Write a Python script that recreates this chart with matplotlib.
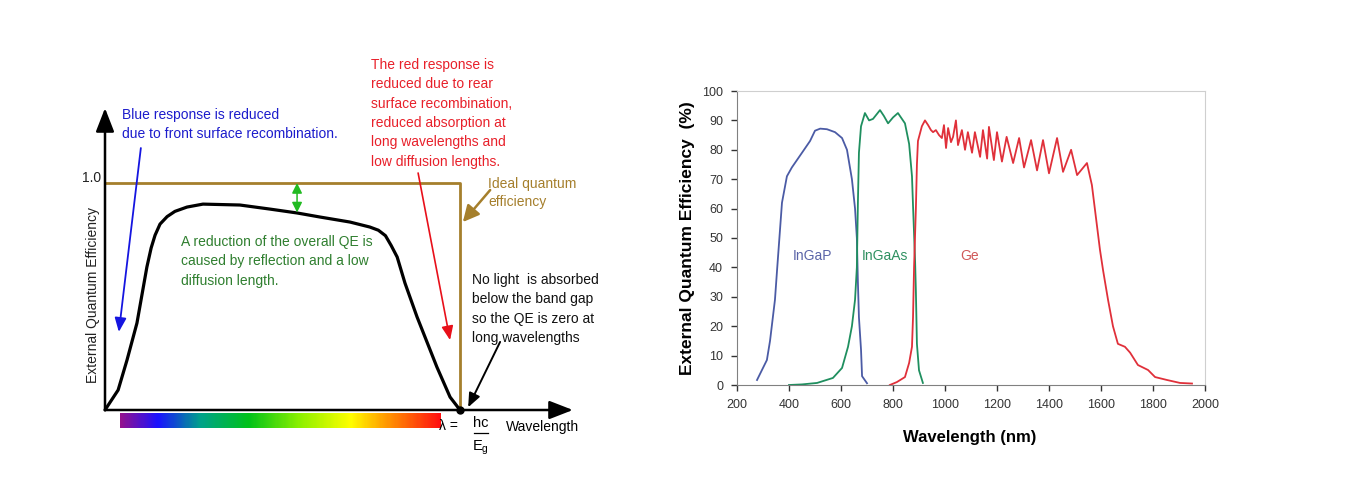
import numpy as np
import matplotlib
matplotlib.use('Agg')
import matplotlib.pyplot as plt
from matplotlib.colors import LinearSegmentedColormap

plt.rcParams['font.family'] = ['Liberation Sans', 'DejaVu Sans']

# ---- left panel: idealised QE curve (wavelength scaled so that hc/Eg = 1)
qe_x = [0, 0.037, 0.062, 0.090, 0.118, 0.130, 0.141, 0.155, 0.175, 0.197,
        0.231, 0.276, 0.380, 0.465, 0.541, 0.606, 0.690, 0.746, 0.770, 0.790,
        0.806, 0.823, 0.845, 0.879, 0.935, 0.972, 1.0]
qe_y = [0, 0.088, 0.220, 0.383, 0.630, 0.714, 0.770, 0.819, 0.852, 0.875,
        0.894, 0.907, 0.903, 0.885, 0.868, 0.850, 0.828, 0.806, 0.792, 0.768,
        0.725, 0.674, 0.559, 0.410, 0.189, 0.057, 0]
ideal_x = [0, 1.0, 1.0]
ideal_y = [1.0, 1.0, 0]
spectrum_colors = ['#92118f', '#1a12ff', '#00a38a', '#00c21a', '#8cf000',
                   '#ffff00', '#ffa300', '#ff1010']
spectrum_stops = [0, 0.116, 0.25, 0.40, 0.56, 0.72, 0.82, 1.0]

# ---- right panel: measured EQE of a triple junction cell
ingap_wl = [277, 315, 327, 346, 354, 373, 392, 411, 450, 481, 500, 520, 546, 577,
            604, 623, 642, 654, 661, 665, 669, 677, 681, 700]
ingap_qe = [1.7, 8.5, 15, 29, 39, 62, 71, 74, 79, 83, 86.5, 87.2, 87, 86,
            84, 80, 70, 60, 50, 35, 23, 12, 3, 0.6]

ingaas_wl = [400, 450, 508, 569, 604, 627, 642, 654, 661, 665, 669, 677, 692,
             708, 723, 750, 765, 781, 800, 819, 846, 862, 873, 877, 885, 888,
             892, 900, 915]
ingaas_qe = [0, 0.2, 0.7, 2.4, 5.8, 13, 20, 29, 40, 62, 79, 88, 92.5,
             90, 90.5, 93.5, 91.5, 89, 91, 92.5, 89, 82, 71, 61, 42, 32,
             14, 5, 0.7]

ge_wl = [788, 815, 846, 862, 873, 877, 881, 888, 892, 896, 911, 923, 935,
         946, 954, 965, 977, 988, 996, 1004, 1012, 1023, 1031, 1042, 1050,
         1065, 1077, 1088, 1104, 1115, 1135, 1146, 1162, 1169, 1188, 1200,
         1219, 1237, 1262, 1285, 1304, 1331, 1354, 1377, 1400, 1431, 1454,
         1485, 1508, 1546, 1565, 1596, 1608, 1627, 1646, 1665, 1692, 1712,
         1742, 1781, 1808, 1854, 1904, 1950]
ge_qe = [0, 1, 2.7, 7.5, 13, 23, 40, 60, 75, 83, 88, 90, 88.4,
         86.7, 86, 86.7, 85, 84, 88.4, 80.6, 87.4, 82.6, 84.4, 90, 81.6,
         86.7, 80, 86, 79, 86, 77.6, 86.7, 77, 87.8, 76.5, 86,
         76, 84.4, 75.5, 84, 74, 83.3, 73, 83.3, 72, 84, 72.5,
         80, 71.4, 75.5, 68, 46, 39, 29, 20, 14, 13, 11,
         6.8, 5.1, 2.7, 1.7, 0.7, 0.5]

x_ticks = list(range(200, 2001, 200))
y_ticks = list(range(0, 101, 10))

fig = plt.figure(figsize=(13.46, 4.93), dpi=100)

# ================= left schematic =================
axL = fig.add_axes([0, 0, 0.5, 1])
axL.axis('off')

def arrow(ax, start, end, color, lw=1.3, head='-|>,head_length=0.6,head_width=0.25', ms=14):
    ax.annotate('', xy=end, xytext=start,
                arrowprops=dict(arrowstyle=head, color=color, lw=lw,
                                shrinkA=0, shrinkB=0, mutation_scale=ms))

brown = '#a57f2c'
fs = 10
ls = 1.48
# spectrum bar under the axis
spec_cmap = LinearSegmentedColormap.from_list('spec', list(zip(spectrum_stops, spectrum_colors)))
axL.imshow(np.linspace(0, 1, 300)[None, :], extent=[0.042, 0.944, -0.079, -0.013],
           aspect='auto', cmap=spec_cmap, zorder=1)

axL.plot(ideal_x, ideal_y, color=brown, lw=2.0, zorder=2)
axL.plot(qe_x, qe_y, color='black', lw=2.3, zorder=3,
         solid_capstyle='round', solid_joinstyle='round')
axL.plot([1.0], [0], 'o', color='black', ms=5, zorder=5)

# axes arrows
arrow(axL, (0, 0), (0, 1.33), 'black', lw=1.8, head='-|>,head_length=0.9,head_width=0.35', ms=16)
arrow(axL, (0, 0), (1.318, 0), 'black', lw=1.8, head='-|>,head_length=0.9,head_width=0.35', ms=16)

axL.text(-0.011, 1.022, '1.0', ha='right', va='center', fontsize=fs, color='#222222')
axL.text(-0.034, 0.507, 'External Quantum Efficiency', rotation=90, ha='center',
         va='center', fontsize=fs, color='#222222')

# gap between ideal and real QE
arrow(axL, (0.541, 0.87), (0.541, 1.0), '#22bb22', lw=1.1,
      head='<|-|>,head_length=0.5,head_width=0.25', ms=12)

# blue response
axL.text(0.048, 1.330, 'Blue response is reduced\ndue to front surface recombination.',
         ha='left', va='top', fontsize=fs, color='#1c1ccc', linespacing=ls)
arrow(axL, (0.101, 1.154), (0.039, 0.344), '#1515e0', lw=1.3)

# red response
axL.text(0.749, 1.550, 'The red response is\nreduced due to rear\nsurface recombination,\n'
         'reduced absorption at\nlong wavelengths and\nlow diffusion lengths.',
         ha='left', va='top', fontsize=fs, color='#e8202a', linespacing=ls)
arrow(axL, (0.882, 1.044), (0.972, 0.308), '#e8101a', lw=1.2)

# ideal QE
axL.text(1.079, 1.026, 'Ideal quantum\nefficiency', ha='left', va='top',
         fontsize=fs, color=brown, linespacing=1.32)
arrow(axL, (1.085, 0.969), (1.008, 0.828), brown, lw=1.8,
      head='-|>,head_length=0.7,head_width=0.35', ms=14)

axL.text(0.214, 0.771, 'A reduction of the overall QE is\ncaused by reflection and a low\n'
         'diffusion length.', ha='left', va='top', fontsize=fs, color='#2f7f2f',
         linespacing=ls)

axL.text(1.034, 0.603, 'No light  is absorbed\nbelow the band gap\nso the QE is zero at\n'
         'long wavelengths', ha='left', va='top', fontsize=fs, color='#111111',
         linespacing=ls)
arrow(axL, (1.113, 0.300), (1.023, 0.012), 'black', lw=1.4)

# band gap wavelength
axL.text(0.968, -0.072, '\u03bb =', ha='center', va='center', fontsize=fs)
axL.text(1.059, -0.058, 'hc', ha='center', va='center', fontsize=10.5)
axL.plot([1.039, 1.079], [-0.101, -0.101], color='black', lw=0.9)
axL.text(1.059, -0.166, 'E$_\\mathregular{g}$', ha='center', va='center', fontsize=10.5)
axL.text(1.231, -0.075, 'Wavelength', ha='center', va='center', fontsize=fs)

axL.set_xlim(-105 / 355, 568 / 355)
axL.set_ylim(-83 / 227, 410 / 227)

# ================= right measured EQE =================
axR = fig.add_axes([737 / 1346, 1 - 385 / 493, 468 / 1346, 294 / 493])
axR.plot(ingap_wl, ingap_qe, color='#4b5ba5', lw=1.3, solid_joinstyle='round')
axR.plot(ingaas_wl, ingaas_qe, color='#1f8f5f', lw=1.3, solid_joinstyle='round')
axR.plot(ge_wl, ge_qe, color='#e0303a', lw=1.3, solid_joinstyle='round')

axR.text(415, 44, 'InGaP', color='#5a64a8', fontsize=10, va='center')
axR.text(681, 44, 'InGaAs', color='#2e9060', fontsize=10, va='center')
axR.text(1058, 44, 'Ge', color='#d05858', fontsize=10, va='center')

axR.set_xlim(200, 2000)
axR.set_ylim(0, 100)
axR.set_xticks(x_ticks)
axR.set_yticks(y_ticks)
axR.tick_params(labelsize=9, colors='#333333', length=4, width=1, pad=6)
for side in ['left', 'bottom']:
    axR.spines[side].set_color('#808080')
for side in ['top', 'right']:
    axR.spines[side].set_color('#cfcfcf')
axR.set_ylabel('External Quantum Efficiency  (%)', fontsize=12.5, fontweight='bold')
axR.yaxis.set_label_coords(-0.09, 0.5)
axR.set_xlabel('Wavelength (nm)', fontsize=12, fontweight='bold')
axR.xaxis.set_label_coords(0.498, -0.153)

fig.savefig('out.png', dpi=100)
